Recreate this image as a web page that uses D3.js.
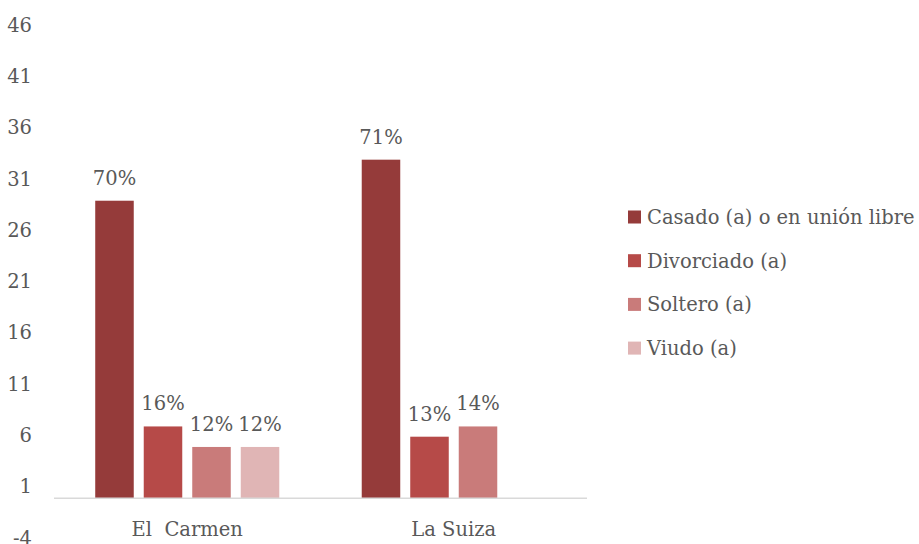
<!DOCTYPE html>
<html>
<head>
<meta charset="utf-8">
<script src="https://cdn.jsdelivr.net/npm/d3@7"></script>
<style>
  body { margin: 0; background: #fff; }
  svg text { font-family: "DejaVu Serif", serif; fill: #595959; }
</style>
</head>
<body>
<svg id="chart" width="919" height="544"></svg>
<script>
const places = ["El  Carmen", "La Suiza"];
const statuses = ["Casado (a) o en unión libre", "Divorciado (a)", "Soltero (a)", "Viudo (a)"];
const casado = [29, 33];
const divorciado = [7, 6];
const soltero = [5, 7];
const viudo = [5, 0];
const pctLabels = [["70%", "16%", "12%", "12%"], ["71%", "13%", "14%", null]];
const yTicks = [-4, 1, 6, 11, 16, 21, 26, 31, 36, 41, 46];
const colors = ["#953b3a", "#b64a48", "#c97b7a", "#e0b5b5"];

const series = [casado, divorciado, soltero, viudo];
const rows = places.map((p, i) => ({
  place: p,
  values: series.map((s, j) => ({ key: statuses[j], value: s[i], label: pctLabels[i][j] }))
}));

const svg = d3.select("#chart");
const fontSize = 19.5;

const x = d3.scaleBand().domain(places).range([54, 587]).paddingInner(0).paddingOuter(0);
const xInner = d3.scaleBand().domain(statuses).range([0, x.bandwidth()]).paddingInner(0.206).paddingOuter(0.85);
const y = d3.scaleLinear().domain([-4, 46]).range([539.3, 26.3]);

// y tick labels (no axis line)
svg.append("g")
  .selectAll("text")
  .data(yTicks)
  .join("text")
  .attr("x", 32)
  .attr("y", d => y(d) - 1.5)
  .attr("dy", "0.35em")
  .attr("text-anchor", "end")
  .style("font-size", fontSize + "px")
  .text(d => d);

const groups = svg.append("g")
  .selectAll("g")
  .data(rows)
  .join("g")
  .attr("transform", d => `translate(${x(d.place)},0)`);

groups.selectAll("rect")
  .data(d => d.values.filter(v => v.value > 0))
  .join("rect")
  .attr("x", d => xInner(d.key))
  .attr("width", xInner.bandwidth())
  .attr("y", d => y(d.value))
  .attr("height", d => y(0) - y(d.value))
  .attr("fill", d => colors[statuses.indexOf(d.key)]);

groups.selectAll("text.lbl")
  .data(d => d.values.filter(v => v.label))
  .join("text")
  .attr("class", "lbl")
  .attr("x", d => xInner(d.key) + xInner.bandwidth() / 2)
  .attr("y", d => y(d.value) - 16)
  .attr("text-anchor", "middle")
  .style("font-size", fontSize + "px")
  .text(d => d.label);

// baseline
svg.append("line")
  .attr("x1", 54).attr("x2", 587)
  .attr("y1", y(0)).attr("y2", y(0))
  .attr("stroke", "#d9d9d9")
  .attr("stroke-width", 1.5);

// category labels
svg.append("g")
  .selectAll("text")
  .data(places)
  .join("text")
  .attr("x", d => x(d) + x.bandwidth() / 2)
  .attr("y", 536)
  .attr("text-anchor", "middle")
  .style("font-size", fontSize + "px")
  .style("white-space", "pre")
  .text(d => d);

// legend
const legend = svg.append("g")
  .selectAll("g")
  .data(statuses)
  .join("g")
  .attr("transform", (d, i) => `translate(628,${217 + i * 43.7})`);

legend.append("rect")
  .attr("x", 0).attr("y", -6.5)
  .attr("width", 13).attr("height", 13)
  .attr("fill", (d, i) => colors[i]);

legend.append("text")
  .attr("x", 19)
  .attr("dy", "0.35em")
  .style("font-size", fontSize + "px")
  .text(d => d);
</script>
</body>
</html>
